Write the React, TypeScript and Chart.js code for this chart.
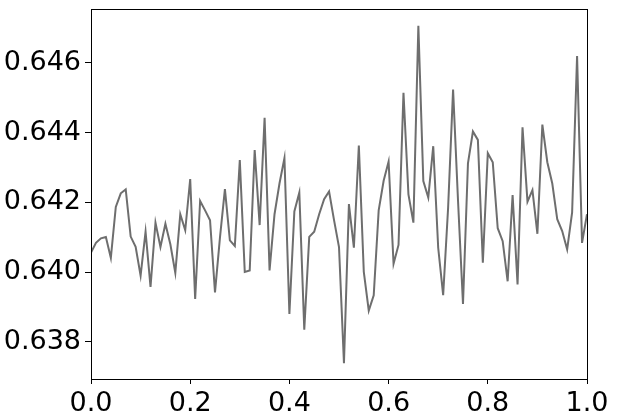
import React, { useEffect, useRef } from "react";
import { Chart, registerables } from "chart.js";

Chart.register(...registerables);

const xValues: number[] = Array.from({ length: 101 }, (_, i) => i / 100);

const yValues: number[] = [
  0.64056, 0.64084, 0.64097, 0.64101, 0.64041, 0.64187, 0.64226, 0.64237, 0.64102, 0.64073,
  0.6399, 0.64116, 0.63958, 0.64142, 0.64072, 0.64139, 0.6408, 0.63998, 0.64166, 0.6412,
  0.64267, 0.63923, 0.64204, 0.64177, 0.64149, 0.63942, 0.64099, 0.64238, 0.64091, 0.64075,
  0.64321, 0.64001, 0.64005, 0.6435, 0.64135, 0.64442, 0.64005, 0.64166, 0.64254, 0.64327,
  0.6388, 0.64174, 0.64228, 0.63835, 0.64101, 0.64116, 0.64166, 0.64209, 0.64231, 0.64149,
  0.64072, 0.63739, 0.64195, 0.6407, 0.64363, 0.64001, 0.6389, 0.63934, 0.64177, 0.64262,
  0.64317, 0.64024, 0.64078, 0.64514, 0.64223, 0.64142, 0.64706, 0.64261, 0.64214, 0.64361,
  0.6407, 0.63934, 0.64185, 0.64523, 0.64204, 0.63909, 0.64312, 0.64403, 0.64379, 0.64027,
  0.64341, 0.64315, 0.64126, 0.64089, 0.63974, 0.64221, 0.63965, 0.64415, 0.64202, 0.64235,
  0.6411, 0.64423, 0.64315, 0.64254, 0.64152, 0.64118, 0.64065, 0.64171, 0.64619, 0.64084,
  0.64166,
];

const xTicks: number[] = [0, 0.2, 0.4, 0.6, 0.8, 1.0];
const yTicks: number[] = [0.638, 0.64, 0.642, 0.644, 0.646];

const frame = {
  id: "frame",
  afterDatasetsDraw(chart: any) {
    const { ctx, chartArea } = chart;
    ctx.save();
    ctx.strokeStyle = "#000";
    ctx.lineWidth = 1;
    ctx.strokeRect(
      Math.round(chartArea.left) + 0.5,
      Math.round(chartArea.top) + 0.5,
      Math.round(chartArea.right - chartArea.left),
      Math.round(chartArea.bottom - chartArea.top)
    );
    ctx.restore();
  },
};

export default function App() {
  const ref = useRef<HTMLCanvasElement | null>(null);

  useEffect(() => {
    document.body.style.margin = "0";
    if (!ref.current) return;
    const font = { family: "'DejaVu Sans', sans-serif", size: 27 };
    const chart = new Chart(ref.current, {
      type: "line",
      data: {
        datasets: [
          {
            data: xValues.map((x, i) => ({ x, y: yValues[i] })),
            borderColor: "#6e6e6e",
            borderWidth: 2,
            pointRadius: 0,
            tension: 0,
            fill: false,
          },
        ],
      },
      options: {
        animation: false,
        responsive: false,
        maintainAspectRatio: false,
        layout: { padding: { top: 9, right: 32, left: 0, bottom: 0 } },
        plugins: { legend: { display: false }, tooltip: { enabled: false } },
        scales: {
          x: {
            type: "linear",
            min: 0,
            max: 1,
            afterBuildTicks: (s: any) => {
              s.ticks = xTicks.map((v) => ({ value: v }));
            },
            afterFit: (s: any) => {
              s.height = 36;
              s.paddingLeft = 0;
              s.paddingRight = 0;
            },
            ticks: {
              font,
              color: "#000",
              padding: 4,
              maxRotation: 0,
              autoSkip: false,
              callback: (v: any) => Number(v).toFixed(1),
            },
            grid: {
              drawOnChartArea: false,
              drawTicks: true,
              tickLength: 5,
              color: "#000",
            },
            border: { color: "#000", width: 1 },
          },
          y: {
            type: "linear",
            min: 0.63694,
            max: 0.64754,
            afterBuildTicks: (s: any) => {
              s.ticks = yTicks.map((v) => ({ value: v }));
            },
            afterFit: (s: any) => {
              s.width = 91;
              s.paddingTop = 0;
              s.paddingBottom = 0;
            },
            ticks: {
              font,
              color: "#000",
              padding: 4,
              autoSkip: false,
              callback: (v: any) => Number(v).toFixed(3),
            },
            grid: {
              drawOnChartArea: false,
              drawTicks: true,
              tickLength: 6,
              color: "#000",
            },
            border: { color: "#000", width: 1 },
          },
        },
      },
      plugins: [frame],
    });
    return () => chart.destroy();
  }, []);

  return (
    <div style={{ position: "absolute", left: 0, top: 0, width: 619, height: 415, background: "#fff" }}>
      <canvas ref={ref} width={619} height={415} style={{ display: "block" }} />
    </div>
  );
}
